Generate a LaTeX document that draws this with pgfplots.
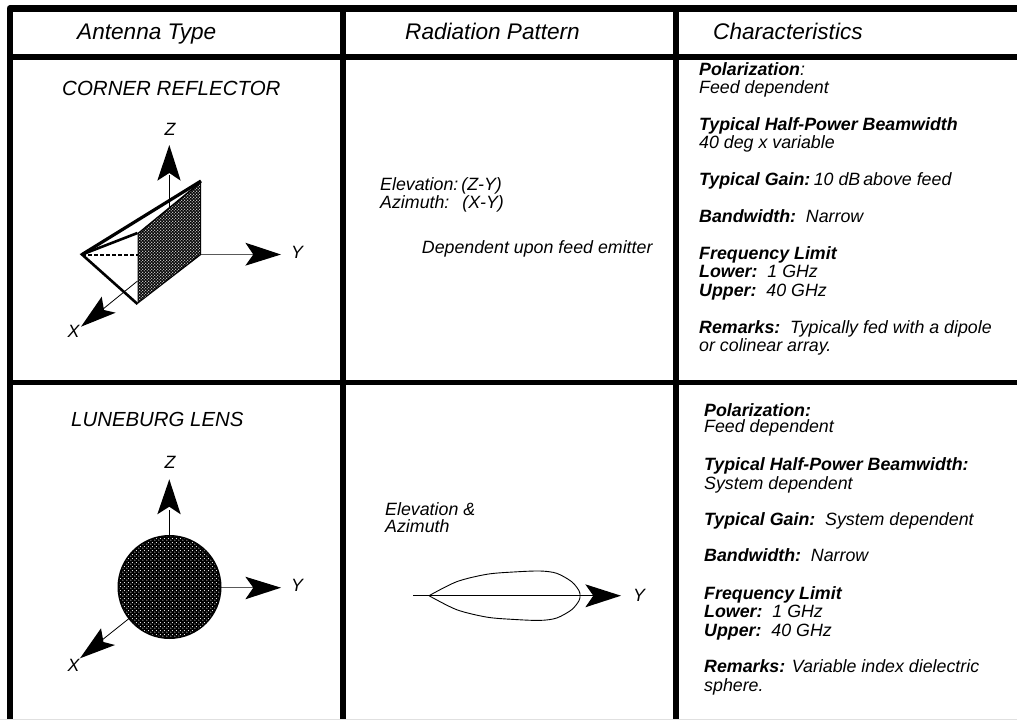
\documentclass[border=0pt]{standalone}
\usepackage{fontspec}
\setmainfont{Liberation Sans}
\usepackage{pgfplots}
\pgfplotsset{compat=1.18}
\usetikzlibrary{patterns}
\pgfdeclarepatternformonly{stipA}{\pgfpointorigin}{\pgfpoint{3.4pt}{3.4pt}}{\pgfpoint{3.4pt}{3.4pt}}{
  \pgfpathcircle{\pgfpoint{0.85pt}{0.85pt}}{0.72pt}\pgfpathcircle{\pgfpoint{2.55pt}{2.55pt}}{0.72pt}\pgfusepath{fill}}
\pgfdeclarepatternformonly{stipB}{\pgfpointorigin}{\pgfpoint{3.6pt}{3.6pt}}{\pgfpoint{3.6pt}{3.6pt}}{
  \pgfpathcircle{\pgfpoint{0.9pt}{0.9pt}}{0.6pt}\pgfpathcircle{\pgfpoint{2.7pt}{2.7pt}}{0.6pt}\pgfusepath{fill}}
\newcommand\sz[1]{\fontsize{#1}{#1}\selectfont\itshape}
\newcommand\T[4][17.8]{\node[anchor=base west,inner sep=0pt,text=black] at (axis cs:#2,#3) {\sz{#1}#4};}
\newcommand\B[1]{{\bfseries #1}}
\begin{document}
\begin{tikzpicture}[line join=miter]
\begin{axis}[scale only axis,width=1017pt,height=720pt,hide axis,
  xmin=0,xmax=1017,ymin=0,ymax=720,y dir=reverse,at={(0,0)}]
\addplot[fill=white,draw=none] coordinates {(0,0)(1017,0)(1017,720)(0,720)(0,0)};
% table rules
\addplot[draw=black!12,line width=1pt] coordinates {(0,719.5)(1017,719.5)};
\addplot[draw=black,line width=6.8pt,line join=round] coordinates {(10,718.5)(10,8.5)(1017,8.5)};
\addplot[draw=black,line width=6pt] coordinates {(10,57)(1017,57)};
\addplot[draw=black,line width=5.5pt] coordinates {(10,382.5)(1017,382.5)};
\addplot[draw=black,line width=6pt] coordinates {(343,8)(343,718.5)};
\addplot[draw=black,line width=6pt] coordinates {(676.3,8)(676.3,718.5)};
% corner reflector
\addplot[draw=black,line width=1pt] coordinates {(169.3,175)(169.3,215)};
\addplot[draw=black!65,line width=1.4pt] coordinates {(200,254.5)(255,254.5)};
\addplot[draw=black,line width=0.8pt] coordinates {(137.5,281)(92,318)};
\addplot[fill=black,draw=none] coordinates {(137.5,233)(201,181)(201,255)(137.5,304)(137.5,233)};
\addplot[pattern=stipA,pattern color=white,draw=none] coordinates {(138.5,234)(200,184)(200,254)(138.5,302)(138.5,234)};
\addplot[draw=black,line width=2pt,dash pattern=on 4pt off 2pt] coordinates {(82,254.5)(137.5,254.5)};
\addplot[draw=black,line width=2.6pt] coordinates {(137.5,233)(82,254.5)(137.5,304)};
\addplot[draw=black,line width=3.2pt] coordinates {(82,254.5)(201,181)};
\addplot[fill=black,draw=none] coordinates {(169.3,145)(157.3,180.7)(169.3,173)(180.7,180.7)(169.3,145)};
\addplot[fill=black,draw=none] coordinates {(281,254.5)(245.3,242.7)(253.3,254.5)(245.3,265.7)(281,254.5)};
\addplot[fill=black,draw=none] coordinates {(81,326.7)(101.7,296.7)(104,310)(115.7,312.7)(81,326.7)};
\T{164.5}{135.5}{Z}
\T{291}{258}{Y}
\T{67.5}{337.7}{X}
% Luneburg lens
\addplot[draw=black,line width=1pt] coordinates {(169.3,510)(169.3,536)};
\addplot[draw=black!65,line width=1.4pt] coordinates {(221,587.7)(255,587.7)};
\addplot[draw=black,line width=0.8pt] coordinates {(129.3,618.3)(92,648)};
\fill[black] (axis cs:169.5,587) circle [radius=52];
\fill[pattern=stipB,pattern color=white] (axis cs:169.5,587) circle [radius=50.5];
\addplot[fill=black,draw=none] coordinates {(169.3,479.3)(157.3,514.3)(169.3,506.7)(180.7,514.3)(169.3,479.3)};
\addplot[fill=black,draw=none] coordinates {(281,587.7)(245.3,576.7)(253.3,587.7)(245.3,599.3)(281,587.7)};
\addplot[fill=black,draw=none] coordinates {(80,658.3)(101,628.3)(103.5,642)(115,645)(80,658.3)};
\T{164.5}{468.5}{Z}
\T{291}{591.7}{Y}
\T{67.5}{671.7}{X}
% lobe
\addplot[draw=black,line width=0.9pt] coordinates {(413.3,595.7)(595,595.7)};
\addplot[fill=black,draw=none] coordinates {(621,595.7)(585.3,584.3)(593.3,595.7)(585.3,607.3)(621,595.7)};
\addplot[draw=black,line width=0.9pt,smooth,tension=0.5] coordinates {(429,595.7)(456.7,581.7)(486.7,574.3)(513.3,572)(540,571)(556.7,573.3)(571.7,581.7)(579,590.7)(580,595.7)(579,600.7)(571.7,609.7)(556.7,618)(540,620.4)(513.3,619.4)(486.7,617.1)(456.7,609.7)(429,595.7)};
\T{633}{601}{Y}
% headers
\T[22.6]{77}{39}{Antenna Type}
\T[22.6]{405}{39}{Radiation Pattern}
\T[22.6]{713}{39}{Characteristics}
\T[20.5]{62}{95}{CORNER REFLECTOR}
\T[20.4]{71}{426.5}{LUNEBURG LENS}
% pattern column
\T{380}{190.7}{Elevation:\hspace{3pt}(Z-Y)}
\T{380}{208.3}{Azimuth:\ \ \hspace{3pt}(X-Y)}
\T{421.7}{253.3}{Dependent upon feed emitter}
\T{385}{515}{Elevation \&}
\T{385}{532.7}{Azimuth}
% characteristics upper
\T{699}{75}{\B{Polarization}:}
\T{699}{93.3}{Feed dependent}
\T{699}{130}{\B{Typical Half-Power Beamwidth}}
\T{699}{148.3}{40 deg x variable}
\T{699}{185}{\B{Typical Gain:}\hspace{3.5pt}10 dB\hspace{3pt}above feed}
\T{699}{222.3}{\B{Bandwidth:}\ \ Narrow}
\T{699}{259}{\B{Frequency Limit}}
\T{699}{277.7}{\B{Lower:}\ \ 1 GHz}
\T{699}{296}{\B{Upper:}\ \ 40 GHz}
\T{699}{333.3}{\B{Remarks:}\ \ Typically fed with a dipole}
\T{699}{351.7}{or colinear array.}
% characteristics lower
\T{704}{416}{\B{Polarization:}}
\T{704}{432.7}{Feed dependent}
\T{704}{470}{\B{Typical Half-Power Beamwidth:}}
\T{704}{489}{System dependent}
\T{704}{525}{\B{Typical Gain:}\ \ System dependent}
\T{704}{561.7}{\B{Bandwidth:}\ \ Narrow}
\T{704}{599.3}{\B{Frequency Limit}}
\T{704}{617.7}{\B{Lower:}\ \ 1 GHz}
\T{704}{636}{\B{Upper:}\ \ 40 GHz}
\T{704}{672.7}{\B{Remarks:} Variable index dielectric}
\T{704}{691}{sphere.}
\end{axis}
\end{tikzpicture}
\end{document}
